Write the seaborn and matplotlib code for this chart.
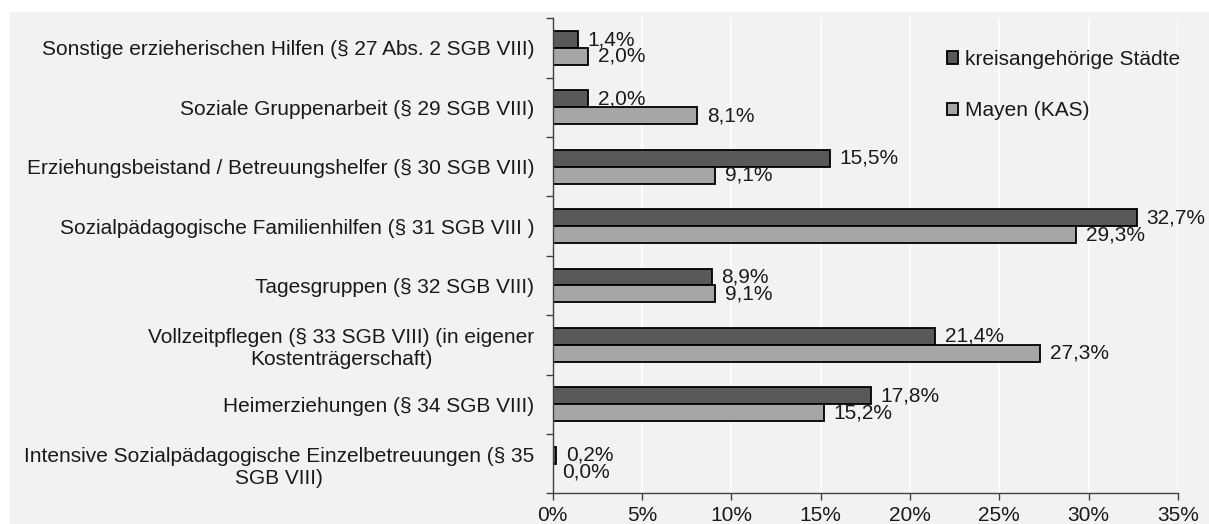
import matplotlib
matplotlib.use("Agg")
import matplotlib.pyplot as plt
import seaborn as sns
import pandas as pd
import numpy as np
from matplotlib.patches import Patch, Rectangle
from matplotlib.ticker import FixedLocator

categories = [
    "Sonstige erzieherischen Hilfen (§ 27 Abs. 2 SGB VIII)",
    "Soziale Gruppenarbeit (§ 29 SGB VIII)",
    "Erziehungsbeistand / Betreuungshelfer (§ 30 SGB VIII)",
    "Sozialpädagogische Familienhilfen (§ 31 SGB VIII )",
    "Tagesgruppen (§ 32 SGB VIII)",
    "Vollzeitpflegen (§ 33 SGB VIII) (in eigener\nKostenträgerschaft)",
    "Heimerziehungen (§ 34 SGB VIII)",
    "Intensive Sozialpädagogische Einzelbetreuungen (§ 35\nSGB VIII)",
]
series_names = ["kreisangehörige Städte", "Mayen (KAS)"]
kreis_values = [1.4, 2.0, 15.5, 32.7, 8.9, 21.4, 17.8, 0.2]
mayen_values = [2.0, 8.1, 9.1, 29.3, 9.1, 27.3, 15.2, 0.0]
x_ticks = [0, 5, 10, 15, 20, 25, 30, 35]

colors = ["#595959", "#a6a6a6"]
bg = "#f2f2f2"
FS = 15

df = pd.DataFrame({
    "Kategorie": categories * 2,
    "Serie": [series_names[0]] * len(categories) + [series_names[1]] * len(categories),
    "Wert": kreis_values + mayen_values,
})

sns.set_theme(style="white")
plt.rcParams["font.family"] = ["Liberation Sans", "DejaVu Sans"]

W, H = 1209, 524
fig = plt.figure(figsize=(W / 100, H / 100), dpi=100)
fig.patch.set_facecolor("white")
fig.patches.append(Rectangle((10 / W, 0), 1 - 10 / W, 1 - 12 / H,
                             transform=fig.transFigure, facecolor=bg,
                             edgecolor="none", zorder=-10))

ax = fig.add_axes([552.5 / W, 1 - 493.3 / H, (1178 - 552.5) / W, (493.3 - 18.3) / H])
ax.set_facecolor(bg)

sns.barplot(data=df, y="Kategorie", x="Wert", hue="Serie", orient="h",
            palette=colors, edgecolor="black", linewidth=1.3,
            width=0.57, gap=0, ax=ax, legend=False, errorbar=None,
            saturation=1)

for container, vals in zip(ax.containers, [kreis_values, mayen_values]):
    labels = [f"{v:.1f}".replace(".", ",") + "%" for v in vals]
    ax.bar_label(container, labels=labels, padding=7, fontsize=FS, color="#1a1a1a")

ax.set_xlim(0, 35)
ax.set_xticks(x_ticks)
ax.set_xticklabels([f"{t}%" for t in x_ticks], fontsize=FS, color="#1a1a1a")
ax.set_ylim(len(categories) - 0.5, -0.5)
ax.set_xlabel("")
ax.set_ylabel("")

ax.grid(axis="x", color="white", linewidth=1.2)
ax.grid(axis="y", visible=False)
ax.set_axisbelow(True)

for s in ["top", "right"]:
    ax.spines[s].set_visible(False)
for s in ["left", "bottom"]:
    ax.spines[s].set_color("#404040")
    ax.spines[s].set_linewidth(1.0)

ax.tick_params(axis="x", which="major", direction="out", length=5, width=1,
               color="#404040", pad=4, bottom=True)
ax.tick_params(axis="y", which="major", length=0, pad=13, labelsize=FS,
               labelcolor="#1a1a1a")
ax.yaxis.set_minor_locator(FixedLocator(np.arange(-0.5, len(categories), 1.0)))
ax.tick_params(axis="y", which="minor", direction="out", length=5, width=1,
               color="#404040", left=True)
for lbl in ax.get_yticklabels():
    lbl.set_multialignment("center")

handles = [Patch(facecolor=c, edgecolor="black", linewidth=1.3) for c in colors]
fig.legend(handles, series_names, loc="upper left",
           bbox_to_anchor=(947 / W, 1 - 50 / H), bbox_transform=fig.transFigure,
           frameon=False, fontsize=FS, handlelength=0.55, handleheight=0.55,
           handletextpad=0.3, labelspacing=1.55, borderpad=0, borderaxespad=0,
           labelcolor="#1a1a1a")

fig.savefig("out.png", dpi=100, facecolor=fig.get_facecolor())
